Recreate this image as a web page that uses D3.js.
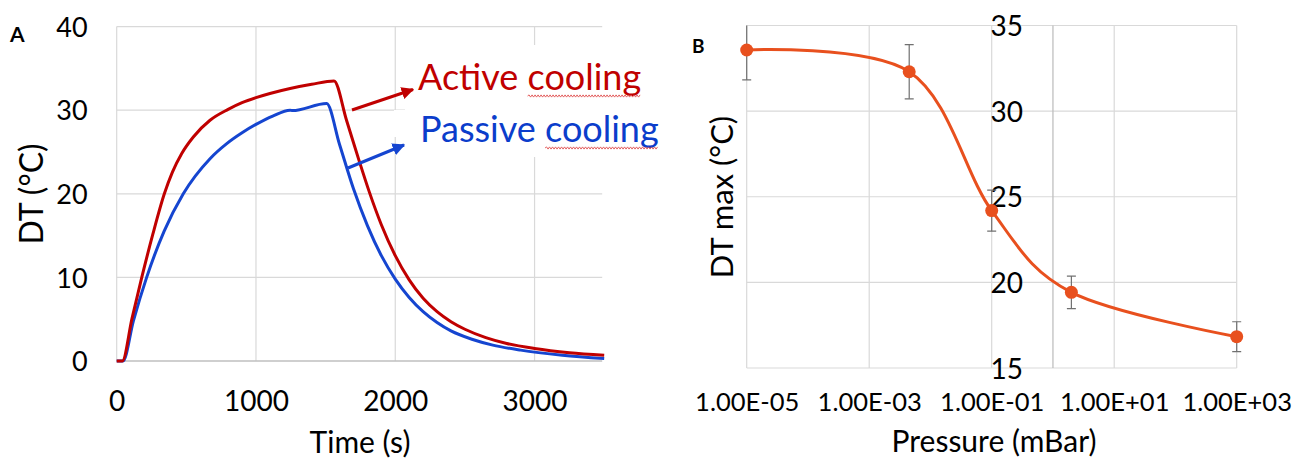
<!DOCTYPE html>
<html>
<head>
<meta charset="utf-8">
<script src="https://cdn.jsdelivr.net/npm/d3@7"></script>
<style>
  html, body { margin: 0; padding: 0; background: #ffffff; }
  svg { display: block; font-family: Lato, "Open Sans", sans-serif; }
</style>
</head>
<body>
<svg id="chart" width="1301" height="459"></svg>
<script>
// ---------------- DATA ----------------
// Panel A : DT (°C) vs time (s)
const activeTime = [0, 40, 110, 180, 260, 342, 400, 466, 550, 670, 800, 900, 1000, 1100, 1245, 1400, 1560,
                    1650, 1734, 1814, 1900, 2000, 2100, 2200, 2300, 2400, 2500, 2650, 2800, 3000, 3250, 3500];
const activeDT   = [0, 0, 5.1, 10, 15.2, 20, 22.6, 24.8, 26.8, 28.8, 30.1, 30.9, 31.5, 32.0, 32.6, 33.1, 33.5,
                    28.8, 24.3, 20.2, 16.3, 12.6, 9.7, 7.5, 5.9, 4.7, 3.8, 2.8, 2.1, 1.5, 1.0, 0.7];
const passiveTime = [0, 45, 120, 215, 340, 478, 670, 790, 900, 1000, 1120, 1245, 1262, 1507,
                     1600, 1700, 1800, 1900, 2000, 2100, 2200, 2300, 2400, 2550, 2700, 2900, 3200, 3500];
const passiveDT   = [0, 0, 4.8, 10, 15.5, 20, 24.2, 26.0, 27.3, 28.3, 29.3, 30.0, 29.95, 30.8,
                     25.9, 20.6, 16.2, 12.6, 9.8, 7.6, 5.9, 4.6, 3.6, 2.6, 1.9, 1.3, 0.7, 0.3];
const timeTicks = [0, 1000, 2000, 3000];
const dtTicks = [0, 10, 20, 30, 40];

// Panel B : DT max (°C) vs pressure (mBar)
const pressure = [1e-5, 4.5e-3, 0.1, 2, 1000];
const dtMax    = [33.57, 32.3, 24.19, 19.42, 16.83];
const dtMaxErr = [1.75, 1.58, 1.2, 0.95, 0.87];
const pressureTicks = [1e-5, 1e-3, 1e-1, 1e1, 1e3];
const pressureTickLabels = ["1.00E-05", "1.00E-03", "1.00E-01", "1.00E+01", "1.00E+03"];
const dtMaxTicks = [15, 20, 25, 30, 35];

// ---------------- STYLE ----------------
const RED = "#C00000", BLUE = "#1545D0", BLUE_TXT = "#0B3DCB", ORANGE = "#E8501E";
const GRID = "#d9d9d9", AXIS = "#bfbfbf";

const svg = d3.select("#chart");

// ================= PANEL A =================
const xA = d3.scaleLinear().domain([0, 3500]).range([116.7, 604.2]);
const yA = d3.scaleLinear().domain([0, 40]).range([361, 26.6]);
const gA = svg.append("g");

// gridlines
gA.selectAll(".hg").data(dtTicks.filter(d => d > 0)).join("line")
  .attr("x1", xA(0)).attr("x2", xA(3500) - 2)
  .attr("y1", d => yA(d)).attr("y2", d => yA(d))
  .attr("stroke", GRID).attr("stroke-width", 1.2);
gA.selectAll(".vg").data(timeTicks).join("line")
  .attr("x1", d => xA(d)).attr("x2", d => xA(d))
  .attr("y1", yA(40)).attr("y2", yA(0))
  .attr("stroke", GRID).attr("stroke-width", 1.2);
gA.append("line").attr("x1", xA(0)).attr("x2", xA(3500) - 2)
  .attr("y1", yA(0)).attr("y2", yA(0)).attr("stroke", AXIS).attr("stroke-width", 1.4);

// axes labels
const axYA = gA.append("g").attr("transform", `translate(${xA(0)},0)`)
  .call(d3.axisLeft(yA).tickValues(dtTicks).tickSize(0).tickPadding(29).tickFormat(d3.format("d")));
axYA.select(".domain").remove();
axYA.selectAll("text").attr("font-size", 27).attr("font-family", "Lato").attr("fill", "#000").attr("dy", "0.36em");

const axXA = gA.append("g").attr("transform", `translate(0,${yA(0)})`)
  .call(d3.axisBottom(xA).tickValues(timeTicks).tickSize(0).tickPadding(30).tickFormat(d3.format("d")));
axXA.select(".domain").remove();
axXA.selectAll("text").attr("font-size", 28).attr("font-family", "Lato").attr("fill", "#000");

gA.append("text").attr("x", 360).attr("y", 453).attr("text-anchor", "middle")
  .attr("font-size", 30).text("Time (s)");
gA.append("text").attr("transform", "translate(43,194) rotate(-90)").attr("text-anchor", "middle")
  .attr("font-size", 32).text("DT (°C)");
gA.append("text").attr("x", 10).attr("y", 42).attr("font-size", 21).attr("font-weight", "bold").text("A");

// curves
const lineA = d3.line().x(d => xA(d[0])).y(d => yA(d[1])).curve(d3.curveMonotoneX);
gA.append("path").datum(passiveTime.map((t, i) => [t, passiveDT[i]]))
  .attr("d", lineA).attr("fill", "none").attr("stroke", BLUE).attr("stroke-width", 3);
gA.append("path").datum(activeTime.map((t, i) => [t, activeDT[i]]))
  .attr("d", lineA).attr("fill", "none").attr("stroke", RED).attr("stroke-width", 3);

// label boxes (white background of text boxes)
gA.append("rect").attr("x", 405).attr("y", 45).attr("width", 280).attr("height", 65).attr("fill", "#fff");
gA.append("rect").attr("x", 394).attr("y", 110).attr("width", 291).attr("height", 27).attr("fill", "#fff");
gA.append("rect").attr("x", 405).attr("y", 137).attr("width", 280).attr("height", 20).attr("fill", "#fff");

// arrows
const defs = svg.append("defs");
function marker(id, color) {
  defs.append("marker").attr("id", id).attr("viewBox", "0 0 10 10")
    .attr("refX", 9).attr("refY", 5).attr("markerWidth", 4.2).attr("markerHeight", 4.2)
    .attr("orient", "auto").attr("markerUnits", "strokeWidth")
    .append("path").attr("d", "M0,0 L10,5 L0,10 Z").attr("fill", color);
}
marker("arrR", RED); marker("arrB", BLUE);
gA.append("line").attr("x1", 352).attr("y1", 110).attr("x2", 413).attr("y2", 89.5)
  .attr("stroke", RED).attr("stroke-width", 3).attr("marker-end", "url(#arrR)");
gA.append("line").attr("x1", 348).attr("y1", 168).attr("x2", 404).attr("y2", 145)
  .attr("stroke", BLUE).attr("stroke-width", 3).attr("marker-end", "url(#arrB)");

// legend texts
function squiggle(x0, x1, y) {
  let d = `M${x0},${y}`; let up = true;
  for (let x = x0 + 1.5; x <= x1; x += 1.5) { d += ` L${x},${y + (up ? -1.1 : 1.1)}`; up = !up; }
  return d;
}
function legendText(str, x, y, color) {
  const t = gA.append("text").attr("x", x).attr("y", y).attr("font-size", 36)
    .attr("fill", color).text(str);
  const node = t.node();
  const start = str.indexOf("cooling");
  const x0 = x + node.getSubStringLength(0, start);
  const x1 = x + node.getComputedTextLength();
  gA.append("path").attr("d", squiggle(x0, x1, y + 6)).attr("fill", "none")
    .attr("stroke", "#e05050").attr("stroke-width", 0.9);
}
legendText("Active cooling", 418, 90, RED);
legendText("Passive cooling", 420, 142, BLUE_TXT);

// ================= PANEL B =================
const xB = d3.scaleLog().domain([1e-5, 1e3]).range([746.7, 1236.7]);
const yB = d3.scaleLinear().domain([15, 35]).range([368, 25.5]);
const gB = svg.append("g");

gB.selectAll(".hg").data(dtMaxTicks).join("line")
  .attr("x1", xB(1e-5)).attr("x2", xB(1e3))
  .attr("y1", d => yB(d)).attr("y2", d => yB(d))
  .attr("stroke", GRID).attr("stroke-width", 1.2);
gB.selectAll(".vg").data(pressureTicks).join("line")
  .attr("x1", d => xB(d)).attr("x2", d => xB(d))
  .attr("y1", yB(35)).attr("y2", yB(15))
  .attr("stroke", GRID).attr("stroke-width", 1.2);
// value axis crossing at 1
gB.append("line").attr("x1", xB(1)).attr("x2", xB(1)).attr("y1", yB(35)).attr("y2", yB(15))
  .attr("stroke", AXIS).attr("stroke-width", 1.3);

const axYB = gB.append("g").attr("transform", `translate(${xB(1)},0)`)
  .call(d3.axisLeft(yB).tickValues(dtMaxTicks).tickSize(0).tickPadding(30).tickFormat(d3.format("d")));
axYB.select(".domain").remove();
axYB.selectAll("text").attr("font-size", 28).attr("font-family", "Lato").attr("fill", "#000").attr("dy", "0.36em");

const axXB = gB.append("g").attr("transform", `translate(0,${yB(15)})`)
  .call(d3.axisBottom(xB).tickValues(pressureTicks).tickSize(0).tickPadding(25)
    .tickFormat((d, i) => pressureTickLabels[i]));
axXB.select(".domain").remove();
axXB.selectAll("text").attr("font-size", 25.5).attr("font-family", "Lato").attr("fill", "#000");

gB.append("text").attr("x", 994).attr("y", 452).attr("text-anchor", "middle")
  .attr("font-size", 30).text("Pressure (mBar)");
gB.append("text").attr("transform", "translate(733,197) rotate(-90)").attr("text-anchor", "middle")
  .attr("font-size", 31).text("DT max (°C)");
gB.append("text").attr("x", 692).attr("y", 53).attr("font-size", 19).attr("font-weight", "bold").text("B");

// error bars (clipped to plot area)
defs.append("clipPath").attr("id", "clipB").append("rect")
  .attr("x", xB(1e-5) - 10).attr("y", yB(35)).attr("width", xB(1e3) - xB(1e-5) + 20).attr("height", yB(15) - yB(35));
const ptsB = pressure.map((p, i) => ({p, v: dtMax[i], e: dtMaxErr[i]}));
const eb = gB.append("g").attr("clip-path", "url(#clipB)");
eb.selectAll(".ev").data(ptsB).join("line")
  .attr("x1", d => xB(d.p)).attr("x2", d => xB(d.p))
  .attr("y1", d => yB(d.v + d.e)).attr("y2", d => yB(d.v - d.e))
  .attr("stroke", "#707070").attr("stroke-width", 1.2);
eb.selectAll(".et").data(ptsB).join("line")
  .attr("x1", d => xB(d.p) - 4.5).attr("x2", d => xB(d.p) + 4.5)
  .attr("y1", d => yB(d.v + d.e)).attr("y2", d => yB(d.v + d.e))
  .attr("stroke", "#707070").attr("stroke-width", 1.2);
eb.selectAll(".eb").data(ptsB).join("line")
  .attr("x1", d => xB(d.p) - 4.5).attr("x2", d => xB(d.p) + 4.5)
  .attr("y1", d => yB(d.v - d.e)).attr("y2", d => yB(d.v - d.e))
  .attr("stroke", "#707070").attr("stroke-width", 1.2);

const lineB = d3.line().x(d => xB(d.p)).y(d => yB(d.v)).curve(d3.curveCatmullRom.alpha(0));
gB.append("path").datum(ptsB).attr("d", lineB).attr("fill", "none")
  .attr("stroke", ORANGE).attr("stroke-width", 3);
gB.selectAll(".pt").data(ptsB).join("circle")
  .attr("cx", d => xB(d.p)).attr("cy", d => yB(d.v)).attr("r", 6.5).attr("fill", ORANGE);
</script>
</body>
</html>
